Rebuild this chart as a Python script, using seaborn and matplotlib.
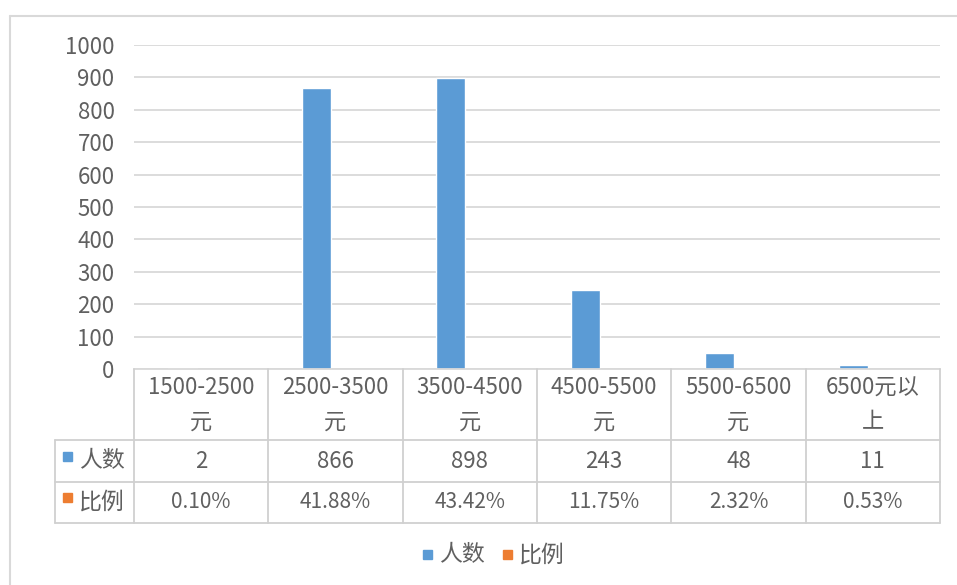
import matplotlib
matplotlib.use("Agg")
import matplotlib.pyplot as plt
import seaborn as sns
import pandas as pd
from matplotlib.patches import Rectangle
from matplotlib.lines import Line2D

categories = ["1500-2500元", "2500-3500元", "3500-4500元", "4500-5500元", "5500-6500元", "6500元以上"]
header_lines = [["1500-2500", "元"], ["2500-3500", "元"], ["3500-4500", "元"],
                ["4500-5500", "元"], ["5500-6500", "元"], ["6500元以", "上"]]
counts = [2, 866, 898, 243, 48, 11]
ratios = [0.0010, 0.4188, 0.4342, 0.1175, 0.0232, 0.0053]
series = ["人数", "比例"]
colors = ["#5B9BD5", "#ED7D31"]
yticks = [0, 100, 200, 300, 400, 500, 600, 700, 800, 900, 1000]

sns.set_theme(style="white")
plt.rcParams['font.family'] = ['Noto Sans CJK SC', 'DejaVu Sans']

W, H = 957, 585
fig = plt.figure(figsize=(W / 100, H / 100), dpi=100)

def fx(px):
    return px / W

def fy(py):
    return 1 - py / H

left_px, right_px, top_px, zero_px = 134, 940, 45, 369
ax = fig.add_axes([fx(left_px), fy(zero_px), fx(right_px - left_px), (zero_px - top_px) / H])

df = pd.DataFrame({
    "cat": categories * 2,
    "series": [series[0]] * len(categories) + [series[1]] * len(categories),
    "value": counts + ratios,
})
sns.barplot(data=df, x="cat", y="value", hue="series", hue_order=series,
            palette=colors, width=0.566, gap=0.237, ax=ax, legend=False,
            saturation=1, errorbar=None)

txt_col = "#606060"
fs = 16

ax.set_ylim(0, 1000)
ax.set_xlim(-0.5, len(categories) - 0.5)
ax.set_yticks(yticks)
ax.set_yticklabels([str(t) for t in yticks])
ax.yaxis.grid(True, color="#D9D9D9", linewidth=1.3)
ax.set_axisbelow(True)
ax.set_xticks([])
ax.set_xlabel("")
ax.set_ylabel("")
for s in ["top", "right", "left"]:
    ax.spines[s].set_visible(False)
ax.spines["bottom"].set_color("#D9D9D9")
ax.spines["bottom"].set_linewidth(1.3)
ax.tick_params(axis="y", length=0, pad=14, labelsize=fs, labelcolor=txt_col)

# outer chart border (left and top visible)
line_col = "#D9D9D9"
fig.add_artist(Line2D([fx(10), fx(10)], [fy(16), fy(585)], color=line_col, lw=1.5))
fig.add_artist(Line2D([fx(10), fx(957)], [fy(16), fy(16)], color=line_col, lw=1.5))

# data table
tcol = "#D0D0D0"
n = len(categories)
col_w = (right_px - left_px) / n
col_x = [left_px + i * col_w for i in range(n + 1)]
row_y = [369, 440, 482, 523]
tab_left = 55
for y in row_y[1:]:
    fig.add_artist(Line2D([fx(tab_left), fx(right_px)], [fy(y), fy(y)], color=tcol, lw=1.3))
for x in col_x:
    fig.add_artist(Line2D([fx(x), fx(x)], [fy(row_y[0]), fy(row_y[3])], color=tcol, lw=1.3))
fig.add_artist(Line2D([fx(tab_left), fx(tab_left)], [fy(row_y[1]), fy(row_y[3])], color=tcol, lw=1.3))

for i in range(n):
    cx = fx((col_x[i] + col_x[i + 1]) / 2)
    fig.text(cx, fy(388), header_lines[i][0], ha="center", va="center", fontsize=fs, color=txt_col)
    fig.text(cx, fy(422), header_lines[i][1], ha="center", va="center", fontsize=fs, color=txt_col)
    fig.text(cx, fy(461), str(counts[i]), ha="center", va="center", fontsize=fs, color=txt_col)
    fig.text(cx, fy(502), f"{ratios[i] * 100:.2f}%", ha="center", va="center", fontsize=fs - 1, color=txt_col)

for j, (name, yc) in enumerate(zip(series, [461, 502])):
    fig.add_artist(Rectangle((fx(63), fy(yc)), fx(9), 9 / H, color=colors[j], transform=fig.transFigure))
    fig.text(fx(79), fy(yc), name, ha="left", va="center", fontsize=fs + 0.5, color=txt_col)

# legend
for j, (name, x0) in enumerate(zip(series, [423, 503])):
    fig.add_artist(Rectangle((fx(x0), fy(559)), fx(9), 9 / H, color=colors[j], transform=fig.transFigure))
    fig.text(fx(x0 + 16), fy(555), name, ha="left", va="center", fontsize=fs + 0.5, color=txt_col)

fig.savefig("out.png", dpi=100, facecolor="white")
